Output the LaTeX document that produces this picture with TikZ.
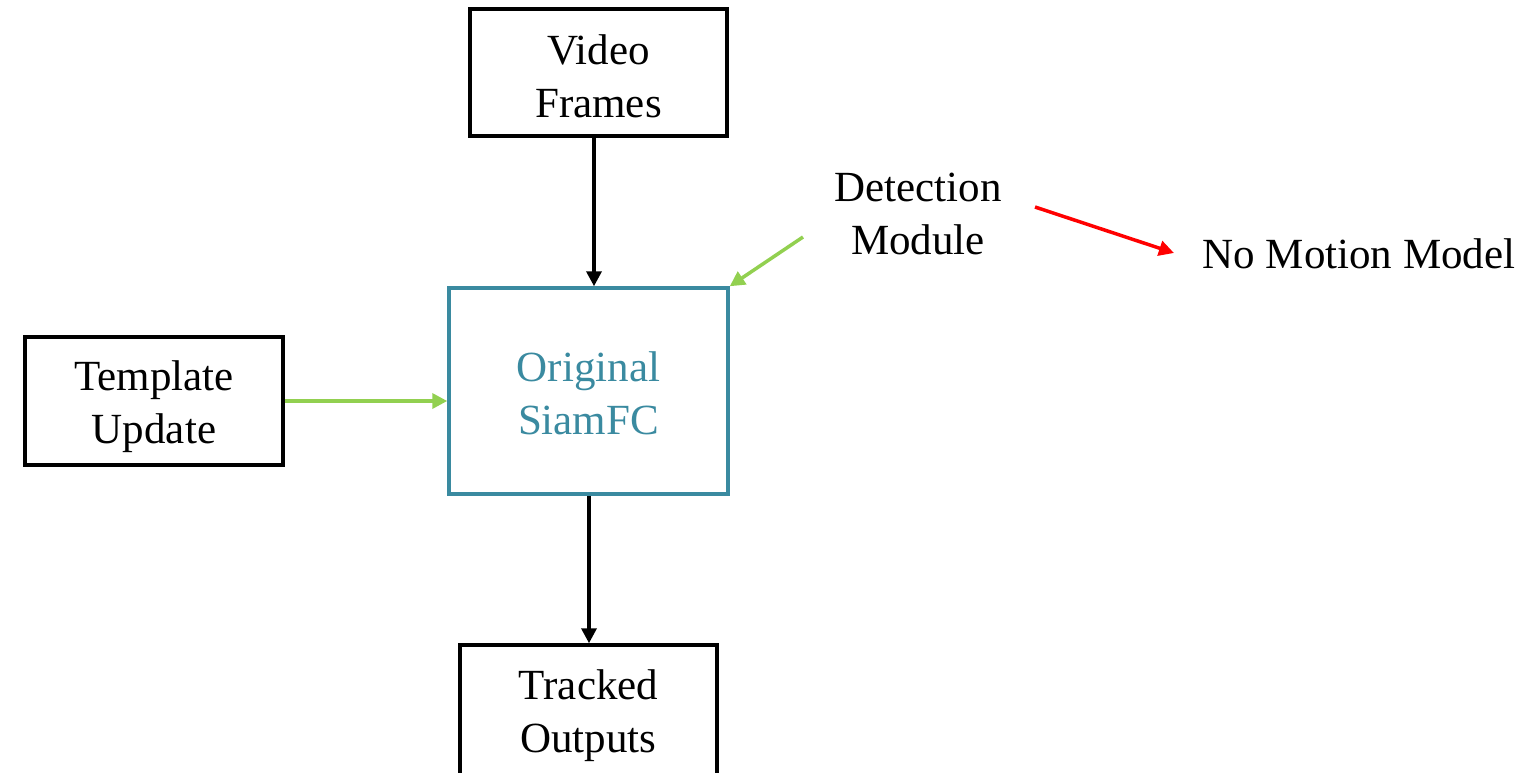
\documentclass[tikz,border=0pt]{standalone}
\usepackage{fontspec}
\setmainfont{Liberation Serif}
\usetikzlibrary{arrows.meta}
\definecolor{teal1}{RGB}{58,138,160}
\definecolor{green1}{RGB}{146,208,80}
\newcommand{\twoline}[3]{\raisebox{-#1}[\height][\depth]{\begin{tabular}{@{}c@{}}#2\\#3\end{tabular}}}
\tikzset{
  box/.style={draw=black, line width=3.5pt, minimum width=257pt, align=center, inner sep=0pt},
  lbl/.style={align=center, inner sep=0pt},
  arr/.style={line width=3.5pt, -{Triangle[length=15pt,width=15pt]}},
}
\begin{document}
\begin{tikzpicture}[x=1pt,y=-1pt, font=\fontsize{43}{53}\selectfont]
\useasboundingbox (0,0) rectangle (1527,772);
\node[box, minimum height=127pt] (vf) at (598.5,72.5) {\twoline{8pt}{Video}{Frames}};
\node[box, draw=teal1, text=teal1, minimum width=279pt, minimum height=206pt] (sf) at (588.5,391) {\twoline{6pt}{Original}{SiamFC}};
\node[box, minimum width=258pt, minimum height=128pt] (tu) at (154,401) {\twoline{5.5pt}{Template}{Update}};
\node[box, minimum height=135pt] (to) at (588.5,712.5) {\twoline{3pt}{Tracked}{Outputs}};
\node[lbl] (dm) at (918,217) {\twoline{0pt}{Detection}{Module}};
\node[lbl] (nm) at (1359,254) {No Motion Model};
\coordinate (g1) at (803,237);
\coordinate (r1) at (1035,207);
\coordinate (r2) at (1174,253);
\draw[arr] (vf.south -| 594,0) -- (sf.north -| 594,0);
\draw[arr] (sf.south -| 589,0) -- (to.north -| 589,0);
\draw[arr, draw=green1, fill=green1] (tu.east) -- (tu.east -| sf.west);
\draw[arr, draw=green1, fill=green1] (g1) -- (sf.north east);
\draw[arr, draw=red, fill=red] (r1) -- (r2);
\end{tikzpicture}
\end{document}
